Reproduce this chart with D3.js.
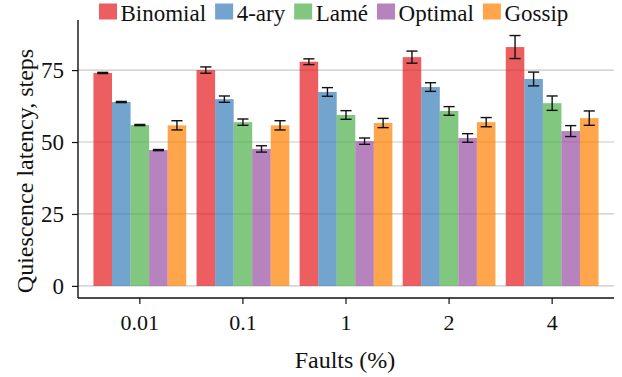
<!DOCTYPE html>
<html>
<head>
<meta charset="utf-8">
<script src="https://cdn.jsdelivr.net/npm/d3@7"></script>
<style>
  body { margin: 0; background: #fff; }
  svg { display: block; }
  text { font-family: "Liberation Serif", "DejaVu Serif", serif; fill: #111; }
</style>
</head>
<body>
<svg width="622" height="377"></svg>
<script>
const faults = ["0.01", "0.1", "1", "2", "4"];
const methods = ["Binomial", "4-ary", "Lamé", "Optimal", "Gossip"];
const colors = ["#e41a1c", "#377eb8", "#4daf4a", "#984ea3", "#ff7f00"];

// mean latency per method, one entry per fault rate
const binomial = [74.0, 75.0, 77.9, 79.5, 83.0];
const kary = [63.9, 64.9, 67.4, 69.1, 71.9];
const lame = [55.9, 56.9, 59.4, 60.8, 63.5];
const optimal = [47.2, 47.6, 50.3, 51.4, 53.8];
const gossip = [55.8, 55.8, 56.6, 56.9, 58.3];

// half-width of the error bars
const binomialErr = [0.2, 1.1, 1.0, 2.1, 4.0];
const karyErr = [0.2, 1.1, 1.5, 1.5, 2.4];
const lameErr = [0.2, 1.1, 1.5, 1.5, 2.5];
const optimalErr = [0.2, 1.1, 1.1, 1.5, 1.9];
const gossipErr = [1.6, 1.6, 1.6, 1.6, 2.5];

const yTicks = [0, 25, 50, 75];

const values = [binomial, kary, lame, optimal, gossip];
const errors = [binomialErr, karyErr, lameErr, optimalErr, gossipErr];

const rows = [];
faults.forEach((f, i) => {
  methods.forEach((m, j) => {
    rows.push({fault: f, method: m, value: values[j][i], err: errors[j][i], color: colors[j]});
  });
});

const svg = d3.select("svg");
const pLeft = 78, pRight = 614, pTop = 20, pBottom = 298;

const x = d3.scaleBand().domain(faults).range([pLeft, pRight]).paddingInner(0.1).paddingOuter(0.15);
const xInner = d3.scaleBand().domain(methods).range([0, x.bandwidth()]);
const y = d3.scaleLinear().domain([-4.2, 92.4]).range([pBottom, pTop]);

// gridlines
svg.append("g")
  .selectAll("line")
  .data(yTicks)
  .join("line")
  .attr("x1", pLeft).attr("x2", pRight)
  .attr("y1", d => y(d)).attr("y2", d => y(d))
  .attr("stroke", "#c8c8c8").attr("stroke-width", 1.2);

// bars
svg.append("g")
  .selectAll("rect")
  .data(rows)
  .join("rect")
  .attr("x", d => x(d.fault) + xInner(d.method))
  .attr("width", xInner.bandwidth())
  .attr("y", d => y(d.value))
  .attr("height", d => y(0) - y(d.value))
  .attr("fill", d => d.color)
  .attr("fill-opacity", 0.7);

// error bars
const cap = xInner.bandwidth() * 0.3;
const eb = svg.append("g").attr("stroke", "#111").attr("stroke-width", 1.4);
rows.forEach(d => {
  const cx = x(d.fault) + xInner(d.method) + xInner.bandwidth() / 2;
  eb.append("line").attr("x1", cx).attr("x2", cx).attr("y1", y(d.value + d.err)).attr("y2", y(d.value - d.err));
  eb.append("line").attr("x1", cx - cap).attr("x2", cx + cap).attr("y1", y(d.value + d.err)).attr("y2", y(d.value + d.err));
  eb.append("line").attr("x1", cx - cap).attr("x2", cx + cap).attr("y1", y(d.value - d.err)).attr("y2", y(d.value - d.err));
});

// axes
const yAxis = svg.append("g")
  .attr("transform", `translate(${pLeft},0)`)
  .call(d3.axisLeft(y).tickValues(yTicks).tickSize(6).tickPadding(8));
yAxis.select(".domain").attr("d", `M0,${pTop}V${pBottom}`).attr("stroke", "#111").attr("stroke-width", 1.4);
yAxis.selectAll("text").style("font-size", "23px").attr("dy", "0.34em");
yAxis.selectAll(".tick line").attr("stroke", "#111").attr("stroke-width", 1.2);

const xAxis = svg.append("g")
  .attr("transform", `translate(0,${pBottom})`)
  .call(d3.axisBottom(x).tickSize(6));
xAxis.select(".domain").attr("d", `M${pLeft},0H${pRight}`).attr("stroke", "#111").attr("stroke-width", 1.4);
xAxis.selectAll("text").style("font-size", "22px").attr("y", 32).attr("dy", null);
xAxis.selectAll(".tick line").attr("stroke", "#111").attr("stroke-width", 1.2);

// axis titles
svg.append("text")
  .attr("transform", `translate(33,171) rotate(-90)`)
  .attr("text-anchor", "middle")
  .style("font-size", "24px")
  .text("Quiescence latency, steps");

svg.append("text")
  .attr("x", 345)
  .attr("y", 368)
  .attr("text-anchor", "middle")
  .style("font-size", "24px")
  .text("Faults (%)");

// legend
const legend = svg.append("g").attr("transform", "translate(99,0)");
let lx = 0;
methods.forEach((m, j) => {
  const item = legend.append("g").attr("transform", `translate(${lx},0)`);
  item.append("rect").attr("y", 3.5).attr("width", 18).attr("height", 16).attr("fill", colors[j]).attr("fill-opacity", 0.7);
  const t = item.append("text").attr("x", 21.5).attr("y", 20.5).style("font-size", "23px").text(m);
  lx += 21.5 + t.node().getComputedTextLength() + 9;
});
</script>
</body>
</html>
